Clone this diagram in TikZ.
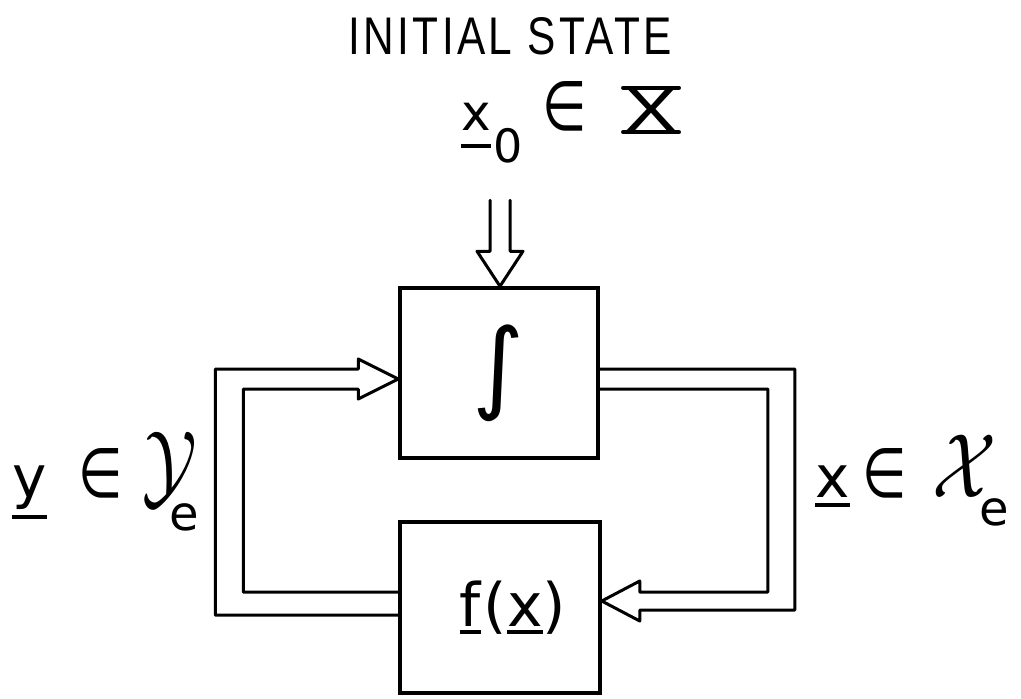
\documentclass[tikz,border=0pt]{standalone}
\usepackage{fontspec}
\setmainfont{Liberation Sans}
\newfontfamily\dv{DejaVu Sans}
\usetikzlibrary{calc}
\newcommand\ubar[2][0.16em]{\setbox0\hbox{#2}\rlap{\rule[-#1]{\wd0}{4pt}}\box0}
\newcommand\fs[1]{\fontsize{#1}{#1}\selectfont}
\newcommand\elem{{\fs{60}\scalebox{0.85}[1.15]{\dv ∈}}}
\tikzset{
  blk/.style={draw, line width=3.5pt, inner sep=0pt},
  pipe/.style={line width=3pt, line join=round, line cap=round},
  lbl/.style={inner sep=0pt, anchor=base west},
}
\begin{document}
\begin{tikzpicture}[x=1pt,y=-1pt]
\useasboundingbox (0,0) rectangle (1021,699);
% title
\node[inner sep=0pt, font=\fs{53}] (title) at (510,36) {\scalebox{0.8}[1]{\addfontfeature{LetterSpace=8}INITIAL STATE}};
\node[lbl, font=\dv\fs{50}] (x0) at (461,130) {\ubar[18pt]{x}\hspace{3pt}\raisebox{-32pt}{\fs{46}0}\hspace{19pt}\elem};
\node[inner sep=0pt, font=\fs{64}] (X) at (651,110) {\scalebox{1.3}[1]{X}};
\draw[line width=4pt, line cap=round] (X.north west) -- (X.north east) (X.south west) -- (X.south east);
% blocks
\node[blk, minimum width=198pt, minimum height=170pt, font=\dv\fs{100}] (int) at (499,373) {∫};
\node[blk, minimum width=200pt, minimum height=171pt, font=\dv\fs{60}] (f) at (500,607.5) {\hspace{26pt}\ubar[8pt]{f}\hspace{3pt}(\ubar[8pt]{x})};
% input arrow
\coordinate (tt) at ($(int.north)+(1,0)$);
\draw[pipe] ($(tt)+(-10,-86)$) -- ($(tt)+(-10,-35)$) -- ($(tt)+(-23,-35)$) -- (tt) -- ($(tt)+(23,-35)$) -- ($(tt)+(10,-35)$) -- ($(tt)+(10,-86)$);
% left feedback
\coordinate (lt) at ($(int.west)+(0,6)$);
\draw[pipe] ($(f.west)+(0,7.5)$) -- ++(-183,0) -- ++(0,-246) -- ($(lt)+(-40,-10)$) -- ($(lt)+(-40,-20)$) -- (lt) -- ($(lt)+(-40,20)$) -- ($(lt)+(-40,10)$) -- ++(-115,0) -- ++(0,203) -- ($(f.west)+(0,-15.5)$);
% right feedback
\coordinate (rt) at ($(f.east)+(0,-6.5)$);
\draw[pipe] ($(int.east)+(0,-4)$) -- ++(195,0) -- ++(0,241) -- ($(rt)+(38,9)$) -- ($(rt)+(38,20)$) -- (rt) -- ($(rt)+(38,-20)$) -- ($(rt)+(38,-9)$) -- ++(128,0) -- ++(0,-203) -- ($(int.east)+(0,16)$);
% labels
\node[lbl, font=\dv\fs{58}] (ylab) at (12,497) {\ubar[22pt]{y}\hspace{32pt}\elem\hspace{20pt}\scalebox{3.5}[4.6]{\fs{20}$\mathcal{Y}$}\hspace{-28pt}\raisebox{-33pt}{\fs{48}e}};
\node[lbl, font=\dv\fs{58}] (xlab) at (815,497) {\ubar[10pt]{x}\hspace{13pt}\elem\hspace{26pt}\scalebox{3.6}[4.4]{\fs{20}$\mathcal{X}$}\hspace{-18pt}\raisebox{-28pt}{\fs{48}e}};
\end{tikzpicture}
\end{document}
